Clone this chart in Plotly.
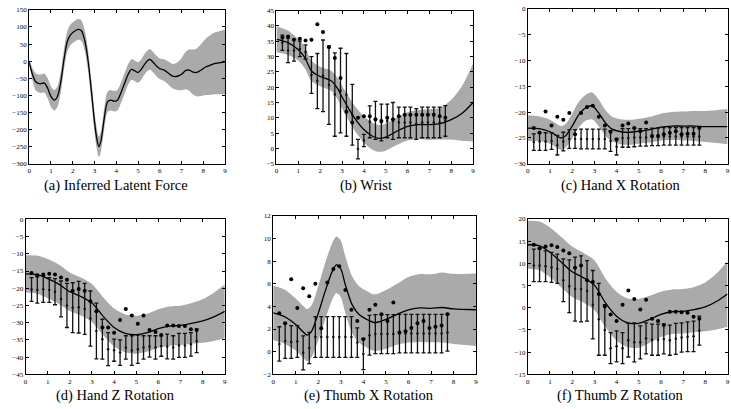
import plotly.graph_objects as go

# ---------------- data ----------------
# shared observation times for panels (b)-(f)
t_obs = [0.27, 0.53, 0.80, 1.07, 1.33, 1.60, 1.87, 2.13, 2.40, 2.67, 2.93, 3.20, 3.47, 3.73, 4.00,
         4.27, 4.53, 4.80, 5.07, 5.33, 5.60, 5.87, 6.13, 6.40, 6.67, 6.93, 7.20, 7.47, 7.73]

# (a) Inferred Latent Force
a_x = [0, 0.15, 0.3, 0.5, 0.7, 0.85, 1.0, 1.15, 1.3, 1.45, 1.6, 1.75, 1.9, 2.05, 2.25, 2.4, 2.55, 2.7,
       2.85, 3.0, 3.1, 3.2, 3.3, 3.45, 3.6, 3.75, 3.9, 4.05, 4.2, 4.4, 4.55, 4.7, 4.85, 5.0, 5.15, 5.3,
       5.45, 5.55, 5.7, 5.85, 6.0, 6.2, 6.4, 6.6, 6.8, 7.0, 7.2, 7.35, 7.5, 7.7, 7.9, 8.1, 8.3, 8.5, 8.8, 9.0]
a_mean = [-2, -38, -60, -66, -64, -79, -103, -114, -103, -62, 5, 57, 77, 86, 93, 89, 62, 5,
          -81, -176, -224, -250, -233, -167, -119, -114, -117, -114, -95, -62, -38, -24, -28, -33, -24, -9,
          2, 5, -3, -14, -22, -26, -35, -44, -44, -38, -27, -26, -31, -33, -26, -17, -12, -7, -4, -2]
a_sd = [8, 18, 25, 27, 28, 29, 30, 30, 30, 30, 30, 30, 30, 30, 30, 30, 30, 30,
        30, 30, 30, 30, 30, 30, 30, 30, 30, 30, 30, 30, 30, 30, 30, 30, 30, 30,
        30, 30, 30, 30, 30, 32, 34, 36, 40, 47, 55, 60, 65, 70, 76, 82, 87, 90, 93, 95]

# (b) Wrist
b_x = [0, 0.5, 1, 1.3, 1.6, 2, 2.5, 2.8, 3, 3.3, 3.6, 4, 4.4, 4.7, 5, 5.5, 6, 6.5, 7, 7.5, 8, 8.5, 9]
b_mean = [35.6, 34.6, 32.2, 29.6, 25.3, 23.5, 22.1, 19.5, 16.8, 13.1, 9.7, 6.2, 4.0, 3.3, 3.7, 5.6,
          7.2, 7.8, 7.8, 8.1, 9.4, 11.5, 15]
b_sd = [4.2, 4, 3.5, 3.5, 3.3, 3.2, 3.3, 3.5, 3.7, 3.9, 4.1, 4.3, 4.4, 4.4, 4.4, 4.5, 4.6, 4.8, 5,
        5.2, 6.5, 9, 12.7]
b_obs = [36.2, 36.5, 35.5, 35.8, 35.2, 35.5, 40.5, 38, 33, 29.5, 23, 12, 8.5, 10, 10.5, 10.5, 9.5, 9,
         10, 9.5, 10.5, 11, 11, 11, 11, 11, 11, 10.5, 10]
b_pred = [34.5, 32, 32, 32.5, 31.5, 24, 22, 23.7, 20.7, 17.6, 18.9, 17.5, 11, -0.2, 2.6, 8.7, 9.2, 8.5,
          9, 9, 8.5, 8.5, 8.5, 8, 8.5, 8.5, 8.5, 8.5, 9]
b_err = [2.5, 4, 3.5, 2.5, 2.3, 6, 9, 11.7, 12.8, 13.6, 13.8, 13.5, 9.9, 3.2, 2, 5.2, 6.2, 6, 5.5, 6,
         5, 5, 5, 5, 5, 5, 5, 5, 5]

# (c) Hand X Rotation
c_x = [0, 0.5, 1, 1.5, 1.7, 2, 2.3, 2.6, 2.9, 3.2, 3.5, 3.8, 4.2, 4.6, 5, 5.5, 6, 6.5, 7, 7.5, 8, 9]
c_mean = [-23.1, -23.2, -23.8, -25, -24.6, -22.7, -20.5, -19.2, -18.8, -20.2, -22.1, -23.3, -23.8,
          -23.9, -23.7, -23.4, -22.9, -22.7, -22.7, -22.7, -22.8, -22.8]
c_sd = [2.5, 2.4, 2.3, 2.3, 2.3, 2.4, 2.5, 2.5, 2.6, 2.6, 2.5, 2.4, 2.4, 2.4, 2.4, 2.5, 2.6, 2.7,
        2.8, 2.9, 3.0, 3.4]
c_obs = [-23.1, -24, -19.9, -22.6, -20.9, -21.5, -20.2, -24.3, -20.2, -19, -18.8, -20.9, -22.6, -23.8,
         -25.3, -22.6, -22.2, -23.1, -23.7, -22, -24.6, -24.6, -24.3, -24, -23.7, -24.3, -24.2, -24.2, -23.1]
c_pred = [-25.8, -25.7, -25.7, -25.6, -26.4, -25.7, -25.2, -25.2, -25.2, -25.2, -25.2, -25.2, -25.2,
          -25.6, -26.7, -25.0, -25.0, -24.9, -24.9, -24.9, -24.8, -24.8, -24.7, -24.7, -24.7, -24.7,
          -24.7, -24.7, -24.7]
c_err = [1.6, 1.7, 1.7, 1.6, 1.9, 1.8, 1.8, 1.8, 1.9, 1.9, 1.9, 1.9, 1.9, 2.0, 1.6, 1.8, 1.8, 1.8,
         1.7, 1.7, 1.7, 1.7, 1.7, 1.7, 1.7, 1.7, 1.7, 1.7, 1.7]

# (d) Hand Z Rotation
d_x = [0, 0.5, 1, 1.5, 2, 2.5, 3, 3.5, 4, 4.5, 5, 5.5, 6, 6.5, 7, 7.5, 8, 8.5, 9]
d_mean = [-15.8, -16, -17.2, -18.8, -21, -22.4, -24.3, -28.1, -31.4, -33.1, -33.5, -32.9, -31.7, -31,
          -30.8, -30.2, -29.5, -28.3, -26.7]
d_sd = [5.4, 5.5, 5.7, 5.7, 5.6, 5.5, 5.5, 5.5, 5.5, 5.5, 5.5, 5.5, 5.6, 5.7, 5.7, 5.9, 6.3, 7, 7.8]
d_obs = [-15.6, -16.2, -16, -15.8, -16, -16.9, -17.5, -20.7, -20.2, -20.7, -23.8, -26.7, -31.4, -31.4,
         -32.9, -29.2, -26, -27.9, -30.3, -27.9, -32.1, -32.7, -33.6, -30.8, -30.8, -31, -31, -31.9, -32.1]
d_pred = [-20.35, -20.5, -20.3, -20.5, -21, -23.1, -25, -25.65, -25.5, -26, -28.8, -32.4, -34.8, -37.7,
          -38, -38.7, -37.2, -38.1, -37.7, -37.2, -36.9, -37.2, -36.8, -36.9, -37.2, -36.6, -36.6,
          -36.3, -35.3]
d_err = [3.45, 3.8, 3.8, 3.6, 3.8, 5.2, 6.4, 7.25, 7.5, 7.4, 8, 8.1, 5.8, 4.8, 3.2, 3.7, 3.4, 4.3,
         4.1, 3.4, 3.1, 3.4, 2.95, 3.6, 3.4, 3.5, 3.5, 3.4, 3.4]

# (e) Thumb X Rotation
e_x = [0, 0.5, 1, 1.3, 1.5, 1.7, 2, 2.3, 2.6, 2.8, 3, 3.2, 3.5, 3.8, 4.2, 4.5, 5, 5.5, 6, 6.5, 7,
       7.5, 8, 9]
e_mean = [3.43, 3.1, 2.4, 1.8, 1.46, 1.8, 3.4, 5.3, 7.0, 7.67, 7.3, 5.9, 4.15, 3.3, 2.8, 2.56, 2.85,
          3.3, 3.7, 3.86, 3.83, 3.9, 3.77, 3.7]
e_sd = [2.4, 2.4, 2.3, 2.3, 2.3, 2.3, 2.4, 2.5, 2.5, 2.5, 2.5, 2.5, 2.5, 2.5, 2.5, 2.5, 2.6, 2.7,
        2.9, 3.0, 3.0, 3.1, 3.1, 3.2]
e_obs = [3.4, 2.5, 6.4, 3.86, 5.6, 4.9, 6.0, 2.07, 6.1, 7.3, 7.55, 5.45, 3.7, 2.7, 1.1, 3.7, 4.15, 3.3,
         2.7, 4.35, 1.7, 1.8, 2.1, 2.5, 2.7, 2.1, 2.2, 2.3, 3.3]
e_pred = [0.68, 0.95, 0.85, 0.9, -0.1, 0.33, 1.3, 1.3, 1.3, 1.3, 1.3, 1.3, 1.3, 0.8, -0.2, 1.45, 1.55,
          1.55, 1.55, 1.55, 1.6, 1.6, 1.6, 1.6, 1.6, 1.6, 1.6, 1.6, 1.7]
e_err = [1.52, 1.55, 1.45, 1.4, 1.5, 1.38, 1.8, 1.8, 1.8, 1.8, 1.8, 1.8, 1.8, 1.3, 1.38, 1.75, 1.73,
         1.73, 1.73, 1.73, 1.7, 1.7, 1.7, 1.7, 1.7, 1.7, 1.7, 1.7, 1.65]

# (f) Thumb Z Rotation
f_x = [0, 0.5, 1, 1.5, 2, 2.5, 3, 3.5, 4, 4.5, 5, 5.5, 6, 6.5, 7, 7.5, 8, 8.5, 9]
f_mean = [14.2, 14, 12.5, 10.3, 8.1, 6.8, 5.1, 1.1, -1.9, -3.4, -3.5, -2.6, -1.5, -0.9, -0.8, -0.4,
          0.2, 1.4, 3.1]
f_sd = [5.4, 5.5, 5.6, 5.7, 5.7, 5.6, 5.6, 5.5, 5.5, 5.5, 5.5, 5.3, 5.1, 5.0, 5.0, 5.1, 5.5, 6.3, 7.4]
f_obs = [14.2, 13.4, 13.8, 14.1, 13.7, 12.9, 12.3, 9, 9.5, 6.2, 5.8, 3.1, 0.3, -1.5, -3, 0.7, 3.9, 2,
         -0.4, 1.8, -2.5, -3, -3.9, -0.9, -0.9, -1, -1.1, -2, -2.5]
f_pred = [9.55, 9.55, 9.35, 9.1, 8.8, 6.2, 4.85, 4.2, 4.25, 3.8, 0.7, -2.6, -5, -9.1, -8.7, -9.1, -7.3,
          -7.8, -7.8, -6.9, -7.2, -7.2, -7.05, -7.3, -7, -6.7, -6.55, -6.45, -5.15]
f_err = [3.65, 3.65, 3.45, 3.4, 3.3, 4.8, 5.95, 7.2, 7.45, 6.8, 7.7, 8.1, 5.7, 3.5, 3.5, 3.5, 3.8, 4.4,
         3.7, 3.5, 3.5, 3.5, 3.35, 3.4, 3.5, 3.3, 3.35, 3.45, 3.25]

captions = ["(a) Inferred Latent Force", "(b) Wrist", "(c) Hand X Rotation",
            "(d) Hand Z Rotation", "(e) Thumb X Rotation", "(f) Thumb Z Rotation"]
y_ranges = [(-300, 150), (-5, 45), (-30, 0), (-45, 0), (-2, 12), (-15, 20)]
y_dticks = [50, 5, 5, 5, 2, 5]

# ---------------- layout geometry (pixels) ----------------
W, H = 731, 409
px_x = [(27.3, 224.3), (276, 473.7), (528.7, 729.5), (23.7, 224), (272.7, 476.7), (528.7, 729.5)]
px_y = [(6, 163), (6.7, 163), (4.7, 163), (219.7, 377.7), (216, 377.7), (219.3, 377.7)]
cap_x = [114.5, 366, 622, 114, 369, 621.5]
cap_y = [185, 185, 185, 399, 399, 399]

panels = [
    (a_x, a_mean, a_sd, None, None, None),
    (b_x, b_mean, b_sd, b_obs, b_pred, b_err),
    (c_x, c_mean, c_sd, c_obs, c_pred, c_err),
    (d_x, d_mean, d_sd, d_obs, d_pred, d_err),
    (e_x, e_mean, e_sd, e_obs, e_pred, e_err),
    (f_x, f_mean, f_sd, f_obs, f_pred, f_err),
]

BAND = "#aaaaaa"
FONT = "Liberation Serif"

fig = go.Figure()
layout = dict(width=W, height=H, margin=dict(l=0, r=0, t=0, b=0),
              paper_bgcolor="white", plot_bgcolor="white", showlegend=False,
              font=dict(family=FONT, color="black"))
annotations = []

for i, (cx, cm, cs, obs, pred, err) in enumerate(panels):
    k = "" if i == 0 else str(i + 1)
    xa, ya = "x" + k, "y" + k
    upper = [m + s for m, s in zip(cm, cs)]
    lower = [m - s for m, s in zip(cm, cs)]
    fig.add_trace(go.Scatter(x=cx, y=lower, xaxis=xa, yaxis=ya, mode="lines",
                             line=dict(width=0, color=BAND, shape="spline", smoothing=0.8),
                             hoverinfo="skip"))
    fig.add_trace(go.Scatter(x=cx, y=upper, xaxis=xa, yaxis=ya, mode="lines", fill="tonexty",
                             fillcolor=BAND,
                             line=dict(width=0, color=BAND, shape="spline", smoothing=0.8),
                             hoverinfo="skip"))
    fig.add_trace(go.Scatter(x=cx, y=cm, xaxis=xa, yaxis=ya, mode="lines",
                             line=dict(width=1.3, color="black", shape="spline", smoothing=0.8)))
    if obs is not None:
        fig.add_trace(go.Scatter(x=t_obs, y=pred, xaxis=xa, yaxis=ya, mode="markers",
                                 marker=dict(size=2.5, color="#111"),
                                 error_y=dict(type="data", array=err, visible=True,
                                              color="#111", thickness=1.3, width=2)))
        fig.add_trace(go.Scatter(x=t_obs, y=obs, xaxis=xa, yaxis=ya, mode="markers",
                                 marker=dict(size=4, color="black")))

    x0, x1 = px_x[i]
    y0, y1 = px_y[i]
    axis_common = dict(showline=True, linecolor="black", linewidth=1, mirror="ticks",
                       ticks="inside", ticklen=3, tickwidth=1, tickcolor="black",
                       showgrid=False, zeroline=False,
                       tickfont=dict(family=FONT, size=7, color="black"))
    layout["xaxis" + k] = dict(domain=[x0 / W, x1 / W], range=[0, 9], dtick=1, tick0=0,
                               anchor=ya, **axis_common)
    layout["yaxis" + k] = dict(domain=[1 - y1 / H, 1 - y0 / H], range=list(y_ranges[i]),
                               dtick=y_dticks[i], tick0=0, anchor=xa, **axis_common)
    annotations.append(dict(text=captions[i], x=cap_x[i] / W, y=1 - cap_y[i] / H,
                            xref="paper", yref="paper", showarrow=False,
                            xanchor="center", yanchor="middle",
                            font=dict(family=FONT, size=14.5, color="black")))

layout["annotations"] = annotations
fig.update_layout(**layout)
fig.write_html("out.html")
